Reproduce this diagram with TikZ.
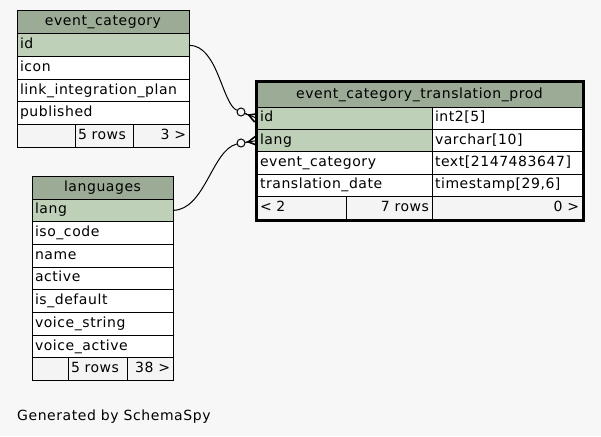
\documentclass[tikz,border=0pt]{standalone}
\usepackage{fontspec}
\setmainfont{DejaVu Sans}[LetterSpace=4]
\usetikzlibrary{arrows.meta,positioning}
\definecolor{pagebg}{HTML}{F7F7F7}
\definecolor{headbg}{HTML}{9BAB96}
\definecolor{keybg}{HTML}{BED1B8}
\definecolor{footbg}{HTML}{F4F4F4}
\tikzset{
  cell/.style={draw=black,line width=1pt,fill=white,anchor=north west,outer sep=0pt,
    inner xsep=3pt,inner ysep=0pt,text height=10pt,text depth=3pt,minimum height=22.6pt,align=left},
  wd/.style={minimum width=#1pt,text width=#1pt-6pt},
  keycell/.style={cell,fill=keybg},
  headcell/.style={cell,fill=headbg,align=center},
  footcell/.style={cell,fill=footbg},
  dot/.style={circle,draw,line width=1pt,fill=pagebg,inner sep=0pt,minimum size=8pt},
  link/.style={line width=1pt},
  crow/.style={-{Straight Barb[reversed,length=8pt,width=9pt,line width=1.6pt]}}
}
\begin{document}
\begin{tikzpicture}[x=1pt,y=-1pt,font=\fontsize{14}{16}\selectfont]
\fill[pagebg] (0,0) rectangle (601,436);
% event_category
\node[headcell,wd=172,minimum height=23pt] (ec-head) at (17,11) {event\_category};
\node[keycell,wd=172] (ec-id) at (17,34) {id};
\foreach \n/\t [count=\i] in {icon/icon,link/link\_integration\_plan,pub/published}
  \node[cell,wd=172] (ec-\n) at (17,34+22.6*\i) {\t};
\node[footcell,wd=58] (ec-f1) at (17,124.4) {};
\node[footcell,wd=58] (ec-f2) at (ec-f1.north east) {5 rows};
\node[footcell,wd=56,align=right] (ec-f3) at (ec-f2.north east) {3 >};
% languages
\node[headcell,wd=141,minimum height=23pt] (lg-head) at (32,176) {languages};
\node[keycell,wd=141,minimum height=22.7pt] (lg-lang) at (32,199) {lang};
\foreach \n/\t [count=\i] in {iso/iso\_code,name/name,active/active,default/is\_default,
    vstring/voice\_string,vactive/voice\_active}
  \node[cell,wd=141,minimum height=22.7pt] (lg-\n) at (32,199+22.7*\i) {\t};
\node[footcell,wd=36,minimum height=22.7pt] (lg-f1) at (32,357.9) {};
\node[footcell,wd=59,minimum height=22.7pt] (lg-f2) at (lg-f1.north east) {5 rows};
\node[footcell,wd=46,minimum height=22.7pt,align=right] (lg-f3) at (lg-f2.north east) {38 >};
% event_category_translation_prod
\node[headcell,wd=325,minimum height=25pt] (tr-head) at (257,82) {event\_category\_translation\_prod};
\foreach \n/\t/\ty/\s [count=\i] in {id/id/{int2[5]}/keycell,lang/lang/{varchar[10]}/keycell,
    cat/event\_category/{text[2147483647]}/cell,date/translation\_date/{timestamp[29,6]}/cell}{
  \node[\s,wd=175,minimum height=22.4pt] (tr-\n) at (257,107+22.4*\i-22.4) {\t};
  \node[cell,wd=150,minimum height=22.4pt] (tr-\n-type) at (tr-\n.north east) {\ty};
}
\node[footcell,wd=89,minimum height=22.4pt] (tr-f1) at (257,196.6) {< 2};
\node[footcell,wd=86,minimum height=22.4pt,align=right] (tr-f2) at (tr-f1.north east) {7 rows};
\node[footcell,wd=150,minimum height=22.4pt,align=right] (tr-f3) at (tr-f2.north east) {0 >};
\draw[line width=3pt] (256,81) rectangle (583,220);
% relations
\node[dot] (ec-dot) at (241,112) {};
\node[dot] (lg-dot) at (241,143) {};
\draw[link] (ec-id.east) .. controls (218,45) and (222,104) .. (ec-dot);
\draw[link] (ec-dot) -- (tr-id.west);
\draw[link,crow] (ec-dot) -- (tr-id.west);
\draw[link] (lg-lang.east) .. controls (205,210) and (212,150) .. (lg-dot);
\draw[link] (lg-dot) -- (tr-lang.west);
\draw[link,crow] (lg-dot) -- (tr-lang.west);
\node[anchor=base west,inner sep=0pt] (credit) at (17,420.5) {Generated by SchemaSpy};
\end{tikzpicture}
\end{document}
